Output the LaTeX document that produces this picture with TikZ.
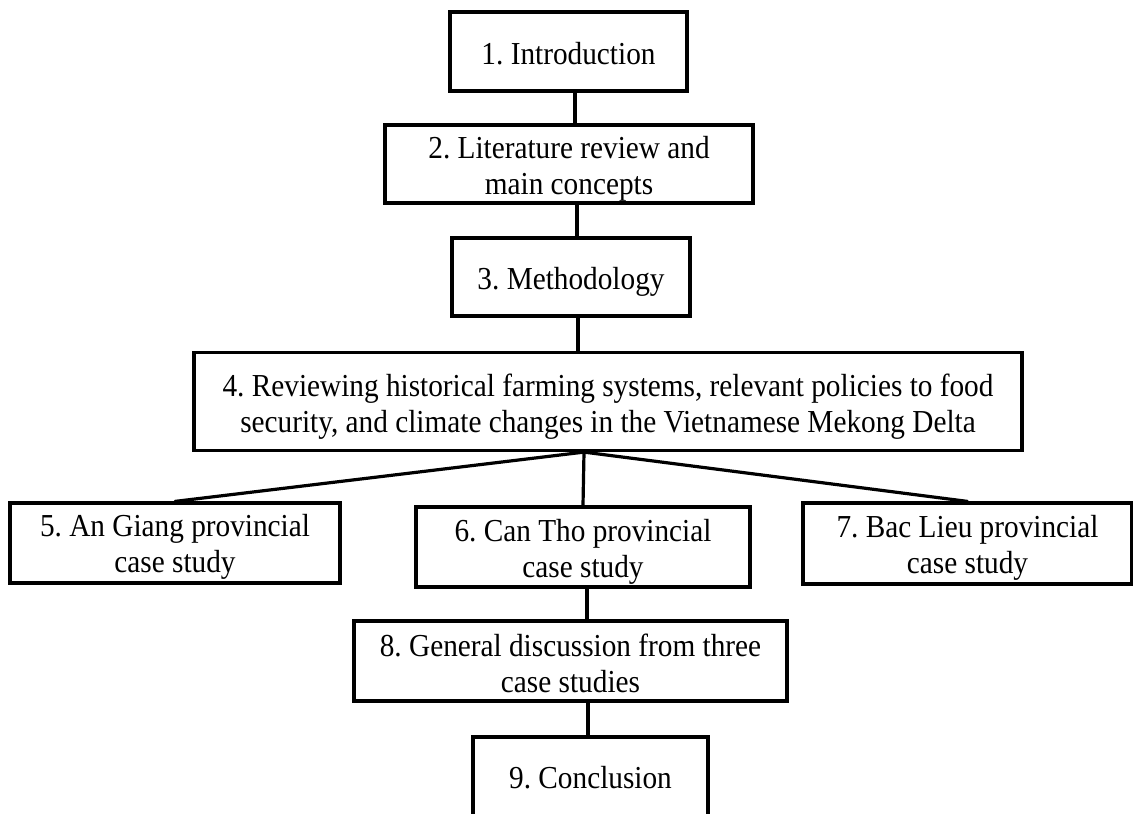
\documentclass[tikz,border=0pt]{standalone}
\usepackage{fontspec}
\setmainfont[FakeStretch=0.915]{Liberation Serif}
\newcommand{\dn}[1]{\rule{0pt}{\dimexpr0.683em+#1pt\relax}}
\begin{document}
\frenchspacing
\begin{tikzpicture}[x=1pt,y=-1pt,
  box/.style={draw=black, line width=3.2pt, fill=white, inner sep=0pt, align=center,
    font=\fontsize{32}{36}\selectfont\frenchspacing},
  link/.style={draw=black, line width=3.2pt}]
\useasboundingbox (0,0) rectangle (1133,814);
\clip (0,0) rectangle (1133,814);
\node[box, minimum width=237pt, minimum height=79pt] (b1) at (568.5,51.5) {\dn{4}1. Introduction};
\node[box, minimum width=368pt, minimum height=78pt] (b2) at (569,164) {\dn{10}2. Literature review and\\main concepts};
\node[box, minimum width=238pt, minimum height=78pt] (b3) at (571,277) {\dn{10}3. Methodology};
\node[box, minimum width=828pt, minimum height=98pt] (b4) at (608,401.5) {\dn{12}4. Reviewing historical farming systems, relevant policies to food\\security, and climate changes in the Vietnamese Mekong Delta};
\node[box, minimum width=330pt, minimum height=80pt] (b5) at (175,543) {\dn{9}5. An Giang provincial\\case study};
\node[box, minimum width=334pt, minimum height=80pt] (b6) at (583,547) {\dn{11}6. Can Tho provincial\\case study};
\node[box, minimum width=329pt, minimum height=81pt] (b7) at (967.5,543.5) {\dn{9}7. Bac Lieu provincial\\case study};
\node[box, minimum width=433pt, minimum height=80pt] (b8) at (570.5,661) {\dn{6}8. General discussion from three\\case studies};
\node[box, minimum width=235pt, minimum height=82pt] (b9) at (590.5,778) {9. Conclusion};
\draw[link] ([xshift=6.5pt]b1.south) -- ([xshift=6pt]b2.north);
\draw[link] ([xshift=8pt]b2.south) -- ([xshift=6pt]b3.north);
\draw[link] ([xshift=7pt]b3.south) -- ([xshift=-30pt]b4.north);
\coordinate (hub) at ([xshift=-24pt]b4.south);
\draw[link, line cap=round] (b5.north) -- (hub) -- (b7.north);
\draw[link] (hub) -- (b6.north);
\draw[link] ([xshift=4pt]b6.south) -- ([xshift=16.5pt]b8.north);
\draw[link] ([xshift=17.5pt]b8.south) -- ([xshift=-2.5pt]b9.north);
\end{tikzpicture}
\end{document}
